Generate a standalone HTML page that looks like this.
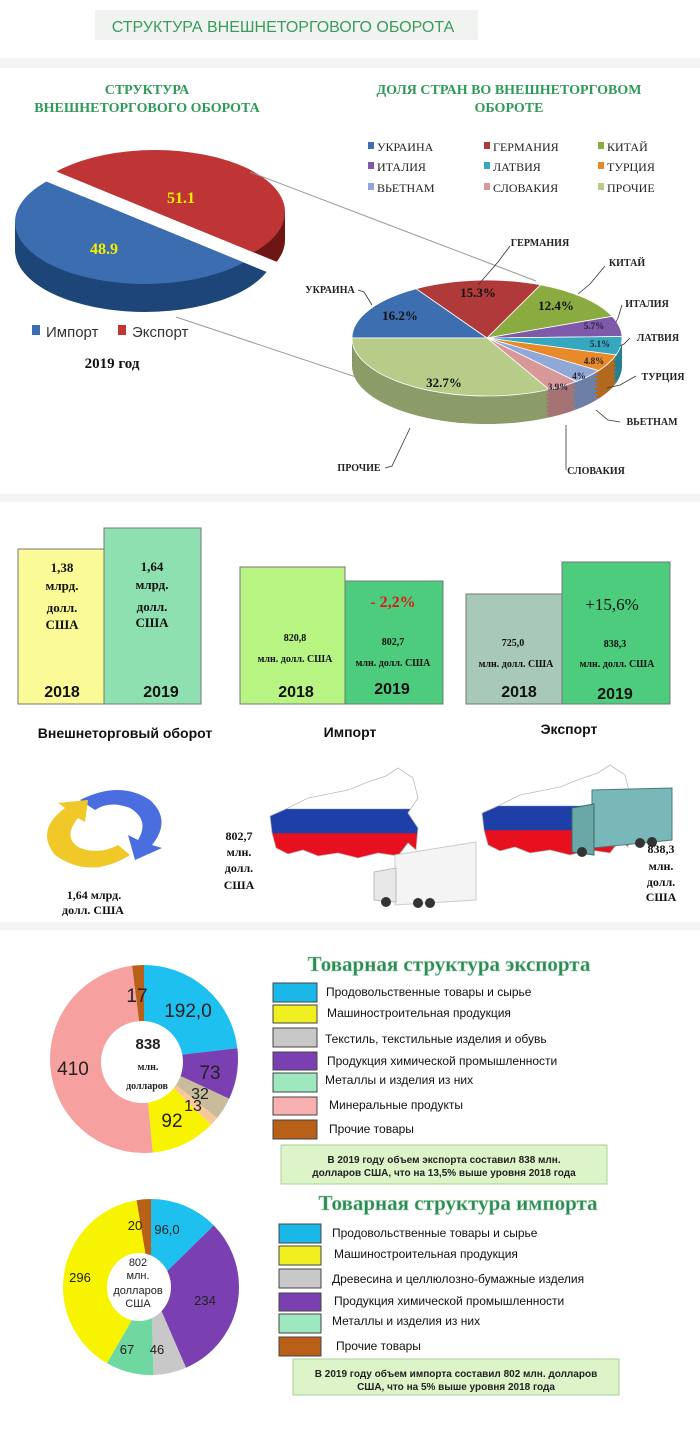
<!DOCTYPE html>
<html><head><meta charset="utf-8"><style>
html,body{margin:0;padding:0;background:#fff}
svg{display:block}
.s{font-family:"Liberation Serif",serif;font-weight:bold}
.a{font-family:"Liberation Sans",sans-serif}
</style></head><body>
<svg width="700" height="1440" viewBox="0 0 700 1440" xmlns="http://www.w3.org/2000/svg">
<defs>
<filter id="dk"><feColorMatrix type="matrix" values="0.55 0 0 0 0 0 0.55 0 0 0 0 0 0.55 0 0 0 0 0 1 0"/></filter>
<clipPath id="cb"><polygon points="-255,58 545,386 545,600 -255,600"/></clipPath>
<clipPath id="cr"><polygon points="-255,58 545,386 545,-200 -255,-200"/></clipPath>
<linearGradient id="fl" x1="0" y1="0" x2="0" y2="1">
<stop offset="0" stop-color="#fff"/><stop offset="0.45" stop-color="#fff"/><stop offset="0.46" stop-color="#1f3fa8"/><stop offset="0.72" stop-color="#1f3fa8"/><stop offset="0.73" stop-color="#e8101e"/><stop offset="1" stop-color="#e8101e"/></linearGradient>
<g id="rp">
<path d="M487 338 L352 338 A135 58 0 0 1 416.1 288.7Z" fill="#3d6eb0"/>
<path d="M487 338 L416.1 288.7 A135 58 0 0 1 540.6 284.8Z" fill="#b03a3a"/>
<path d="M487 338 L540.6 284.8 A135 58 0 0 1 612.2 316.3Z" fill="#8aab40"/>
<path d="M487 338 L612.2 316.3 A135 58 0 0 1 622 336.5Z" fill="#7e5aa8"/>
<path d="M487 338 L622 336.5 A135 58 0 0 1 616.2 354.9Z" fill="#35a8c0"/>
<path d="M487 338 L616.2 354.9 A135 58 0 0 1 598.7 370.6Z" fill="#e88a2a"/>
<path d="M487 338 L598.7 370.6 A135 58 0 0 1 576.3 381.5Z" fill="#8fa8d8"/>
<path d="M487 338 L576.3 381.5 A135 58 0 0 1 549.1 389.5Z" fill="#d89898"/>
<path d="M487 338 L549.1 389.5 A135 58 0 0 1 352 338Z" fill="#b8cc8a"/>
</g>
</defs>
<rect x="0" y="0" width="700" height="60" fill="#fff"/>
<rect x="95" y="10" width="383" height="30" fill="#f1f3f1"/>
<text x="283" y="32" text-anchor="middle" class="a" font-size="16" fill="#3a9b5b">СТРУКТУРА ВНЕШНЕТОРГОВОГО ОБОРОТА</text>
<rect x="0" y="58" width="700" height="10" fill="#f4f4f4"/>
<rect x="0" y="494" width="700" height="8" fill="#f4f4f4"/>
<rect x="0" y="922" width="700" height="8" fill="#f4f4f4"/>

<text x="147" y="94" text-anchor="middle" class="s" font-size="14" fill="#2f9a58">СТРУКТУРА</text>
<text x="147" y="112" text-anchor="middle" class="s" font-size="14" fill="#2f9a58">ВНЕШНЕТОРГОВОГО  ОБОРОТА</text>
<text x="509" y="94" text-anchor="middle" class="s" font-size="14" fill="#2f9a58">ДОЛЯ СТРАН ВО ВНЕШНЕТОРГОВОМ</text>
<text x="509" y="112" text-anchor="middle" class="s" font-size="14" fill="#2f9a58">ОБОРОТЕ</text>

<g class="s" font-size="12" font-weight="normal" fill="#222" style="font-weight:normal">
<rect x="368" y="142" width="6" height="7" fill="#3d6eb0"/><text x="377" y="151">УКРАИНА</text>
<rect x="484" y="142" width="6" height="7" fill="#b03a3a"/><text x="493" y="151">ГЕРМАНИЯ</text>
<rect x="598" y="142" width="6" height="7" fill="#8aab40"/><text x="607" y="151">КИТАЙ</text>
<rect x="368" y="162" width="6" height="7" fill="#7e5aa8"/><text x="377" y="171">ИТАЛИЯ</text>
<rect x="484" y="162" width="6" height="7" fill="#35a8c0"/><text x="493" y="171">ЛАТВИЯ</text>
<rect x="598" y="162" width="6" height="7" fill="#e88a2a"/><text x="607" y="171">ТУРЦИЯ</text>
<rect x="368" y="183" width="6" height="7" fill="#8fa8d8"/><text x="377" y="192">ВЬЕТНАМ</text>
<rect x="484" y="183" width="6" height="7" fill="#d89898"/><text x="493" y="192">СЛОВАКИЯ</text>
<rect x="598" y="183" width="6" height="7" fill="#b8cc8a"/><text x="607" y="192">ПРОЧИЕ</text>
</g>

<!-- left pie -->
<g transform="translate(10,-10)" clip-path="url(#cr)">
<g clip-path="url(#cr)">
<ellipse cx="145" cy="250" rx="130" ry="62" fill="#6e1616"/>
<rect x="15" y="222" width="260" height="28" fill="#6e1616"/>
<polygon points="46.5,181.6 243.5,262.4 243.5,290.4 46.5,209.6" fill="#5a1010"/>
<ellipse cx="145" cy="222" rx="130" ry="62" fill="#bf3434"/>
</g></g>
<g clip-path="url(#cb)">
<ellipse cx="145" cy="250" rx="130" ry="62" fill="#1e4578"/>
<rect x="15" y="222" width="260" height="28" fill="#1e4578"/>
<ellipse cx="145" cy="222" rx="130" ry="62" fill="#3b6db0"/>
</g>
<text x="181" y="203" text-anchor="middle" class="s" font-size="16" fill="#f5f000">51.1</text>
<text x="104" y="254" text-anchor="middle" class="s" font-size="16" fill="#f5f000">48.9</text>
<rect x="32" y="325" width="8" height="10" fill="#3b6db0"/><text x="46" y="337" class="a" font-size="15" fill="#333">Импорт</text>
<rect x="118" y="325" width="8" height="10" fill="#bf3434"/><text x="132" y="337" class="a" font-size="15" fill="#333">Экспорт</text>
<text x="112" y="368" text-anchor="middle" class="s" font-size="15" fill="#111">2019 год</text>

<line x1="250" y1="172" x2="536" y2="281" stroke="#999" stroke-width="1"/>
<line x1="176" y1="317" x2="446" y2="407" stroke="#999" stroke-width="1"/>

<!-- right pie -->
<g filter="url(#dk)">
<use href="#rp" y="28"/><use href="#rp" y="24"/><use href="#rp" y="20"/><use href="#rp" y="16"/><use href="#rp" y="12"/><use href="#rp" y="8"/><use href="#rp" y="4"/>
</g>
<use href="#rp" stroke="#fff" stroke-width="0.8"/>
<g class="s" font-size="13" fill="#111">
<text x="400" y="320" text-anchor="middle">16.2%</text>
<text x="478" y="297" text-anchor="middle">15.3%</text>
<text x="556" y="310" text-anchor="middle">12.4%</text>
<text x="444" y="387" text-anchor="middle">32.7%</text>
</g>
<g class="s" font-size="9" fill="#223">
<text x="594" y="329" text-anchor="middle">5.7%</text>
<text x="600" y="347" text-anchor="middle">5.1%</text>
<text x="594" y="364" text-anchor="middle">4.8%</text>
<text x="579" y="379" text-anchor="middle">4%</text>
<text x="558" y="390" text-anchor="middle">3.9%</text>
</g>
<g class="s" font-size="10" fill="#222" stroke="none">
<text x="330" y="293" text-anchor="middle">УКРАИНА</text>
<text x="540" y="246" text-anchor="middle">ГЕРМАНИЯ</text>
<text x="627" y="266" text-anchor="middle">КИТАЙ</text>
<text x="647" y="307" text-anchor="middle">ИТАЛИЯ</text>
<text x="658" y="341" text-anchor="middle">ЛАТВИЯ</text>
<text x="663" y="380" text-anchor="middle">ТУРЦИЯ</text>
<text x="652" y="425" text-anchor="middle">ВЬЕТНАМ</text>
<text x="596" y="474" text-anchor="middle">СЛОВАКИЯ</text>
<text x="359" y="471" text-anchor="middle">ПРОЧИЕ</text>
</g>
<g stroke="#333" stroke-width="0.8" fill="none">
<polyline points="358,290 364,292 372,305"/>
<polyline points="510,246 498,262 478,285"/>
<polyline points="605,266 590,284 578,294"/>
<polyline points="622,305 618,318 616,322"/>
<polyline points="630,338 624,344 620,346"/>
<polyline points="636,376 620,385 607,388"/>
<polyline points="620,422 608,420 596,410"/>
<polyline points="566,470 566,440 566,425"/>
<polyline points="385,468 392,466 410,428"/>
</g>

<!-- bars -->
<g stroke="#777" stroke-width="1">
<rect x="18" y="549" width="86" height="155" fill="#fafa96"/>
<rect x="104" y="528" width="97" height="176" fill="#8ee0b0"/>
<rect x="240" y="567" width="105" height="137" fill="#b8f482"/>
<rect x="345" y="581" width="98" height="123" fill="#4ccc7c"/>
<rect x="466" y="594" width="96" height="110" fill="#a8c8b8"/>
<rect x="562" y="562" width="108" height="142" fill="#4ccc7c"/>
</g>
<g class="s" font-size="13" fill="#111" text-anchor="middle">
<text x="62" y="572">1,38</text><text x="62" y="590">млрд.</text><text x="62" y="612">долл.</text><text x="62" y="629">США</text>
<text x="152" y="571">1,64</text><text x="152" y="589">млрд.</text><text x="152" y="611">долл.</text><text x="152" y="627">США</text>
</g>
<g class="s" font-size="10" fill="#111" text-anchor="middle">
<text x="295" y="641">820,8</text><text x="295" y="662">млн. долл. США</text>
<text x="393" y="645">802,7</text><text x="393" y="666">млн. долл. США</text>
<text x="513" y="646">725,0</text><text x="516" y="667">млн. долл. США</text>
<text x="615" y="647">838,3</text><text x="617" y="667">млн. долл. США</text>
</g>
<text x="393" y="607" text-anchor="middle" class="s" font-size="16" fill="#e01818">- 2,2%</text>
<text x="612" y="610" text-anchor="middle" class="s" font-size="17" fill="#111" style="font-weight:normal">+15,6%</text>
<g class="a" font-size="16" font-weight="bold" fill="#111" text-anchor="middle">
<text x="62" y="697">2018</text><text x="161" y="697">2019</text>
<text x="296" y="697">2018</text><text x="392" y="694">2019</text>
<text x="519" y="697">2018</text><text x="615" y="699">2019</text>
</g>
<g class="a" font-size="14" font-weight="bold" fill="#111" text-anchor="middle">
<text x="125" y="738">Внешнеторговый оборот</text>
<text x="350" y="737">Импорт</text>
<text x="569" y="734">Экспорт</text>
</g>

<!-- arrows -->
<path d="M80 800 Q120 780 150 800 Q172 820 152 845 L162 848 L135 860 L128 835 L138 840 Q150 820 130 808 Q110 800 95 810 Z" fill="#4a6ee0"/>
<path d="M130 855 Q90 880 55 855 Q35 830 65 808 L58 803 L88 800 L85 822 L78 818 Q62 838 80 848 Q100 855 118 845 Z" fill="#f0c828"/>
<text x="94" y="899" text-anchor="middle" class="s" font-size="12" fill="#111">1,64  млрд.</text>
<text x="93" y="914" text-anchor="middle" class="s" font-size="12" fill="#111">долл. США</text>

<!-- maps -->
<g transform="translate(268,768)">
<path d="M2 48 L20 40 L40 30 L60 26 L80 22 L100 14 L118 8 L130 0 L145 10 L150 30 L140 45 L150 60 L148 82 L140 75 L130 88 L110 85 L90 90 L70 85 L50 88 L35 82 L20 86 L8 80 L4 65 Z" fill="url(#fl)" stroke="#bbb" stroke-width="0.8"/>
</g>
<g transform="translate(480,765)">
<path d="M2 48 L20 40 L40 30 L60 26 L80 22 L100 14 L118 8 L130 0 L145 10 L150 30 L140 45 L150 60 L148 82 L140 75 L130 88 L110 85 L90 90 L70 85 L50 88 L35 82 L20 86 L8 80 L4 65 Z" fill="url(#fl)" stroke="#bbb" stroke-width="0.8"/>
</g>
<!-- white truck -->
<polygon points="395,855 476,842 476,900 395,905" fill="#f4f4f4" stroke="#ccc"/>
<polygon points="374,872 396,868 396,902 374,900" fill="#e8e8e8" stroke="#bbb"/>
<circle cx="386" cy="902" r="5" fill="#333"/><circle cx="418" cy="903" r="5" fill="#333"/><circle cx="430" cy="903" r="5" fill="#333"/>
<!-- teal truck -->
<polygon points="592,790 672,788 672,840 592,848" fill="#79b8b8" stroke="#4a7a7a"/>
<polygon points="572,808 594,804 594,855 572,852" fill="#6aa8a8" stroke="#3a6a6a"/>
<circle cx="582" cy="852" r="5" fill="#333"/><circle cx="640" cy="843" r="5" fill="#333"/><circle cx="652" cy="842" r="5" fill="#333"/>
<g class="s" font-size="12" fill="#111" text-anchor="middle">
<text x="239" y="840">802,7</text><text x="239" y="856">млн.</text><text x="239" y="872">долл.</text><text x="239" y="889">США</text>
<text x="661" y="853">838,3</text><text x="661" y="870">млн.</text><text x="661" y="886">долл.</text><text x="661" y="901">США</text>
</g>

<!-- export donut -->
<g transform="rotate(-90 144 1059)" fill="none" stroke-width="94">
<circle cx="144" cy="1059" r="47" pathLength="829" stroke="#1ec0f0" stroke-dasharray="192 829" stroke-dashoffset="0"/>
<circle cx="144" cy="1059" r="47" pathLength="829" stroke="#7a3fb0" stroke-dasharray="73 829" stroke-dashoffset="-192"/>
<circle cx="144" cy="1059" r="47" pathLength="829" stroke="#c8bc9c" stroke-dasharray="32 829" stroke-dashoffset="-265"/>
<circle cx="144" cy="1059" r="47" pathLength="829" stroke="#f8c898" stroke-dasharray="13 829" stroke-dashoffset="-297"/>
<circle cx="144" cy="1059" r="47" pathLength="829" stroke="#f8f400" stroke-dasharray="92 829" stroke-dashoffset="-310"/>
<circle cx="144" cy="1059" r="47" pathLength="829" stroke="#f7a0a0" stroke-dasharray="410 829" stroke-dashoffset="-402"/>
<circle cx="144" cy="1059" r="47" pathLength="829" stroke="#b86018" stroke-dasharray="17 829" stroke-dashoffset="-812"/>
</g>
<circle cx="142" cy="1062" r="41" fill="#fff"/>
<g class="a" font-size="19" fill="#222" text-anchor="middle">
<text x="137" y="1002">17</text><text x="188" y="1017">192,0</text><text x="210" y="1079">73</text>
<text x="200" y="1099" font-size="16">32</text><text x="193" y="1111" font-size="16">13</text>
<text x="172" y="1127">92</text><text x="73" y="1075">410</text>
</g>
<text x="148" y="1049" text-anchor="middle" class="a" font-size="15" font-weight="bold" fill="#222">838</text>
<text x="148" y="1070" text-anchor="middle" class="s" font-size="10" fill="#222">млн.</text>
<text x="147" y="1089" text-anchor="middle" class="s" font-size="10" fill="#222">долларов</text>

<!-- import donut -->
<g transform="rotate(-90 151 1287)" fill="none" stroke-width="88">
<circle cx="151" cy="1287" r="44" pathLength="759" stroke="#1ec0f0" stroke-dasharray="96 759" stroke-dashoffset="0"/>
<circle cx="151" cy="1287" r="44" pathLength="759" stroke="#7a3fb0" stroke-dasharray="234 759" stroke-dashoffset="-96"/>
<circle cx="151" cy="1287" r="44" pathLength="759" stroke="#c8c8c8" stroke-dasharray="46 759" stroke-dashoffset="-330"/>
<circle cx="151" cy="1287" r="44" pathLength="759" stroke="#6ed8a0" stroke-dasharray="67 759" stroke-dashoffset="-376"/>
<circle cx="151" cy="1287" r="44" pathLength="759" stroke="#f8f400" stroke-dasharray="296 759" stroke-dashoffset="-443"/>
<circle cx="151" cy="1287" r="44" pathLength="759" stroke="#b86018" stroke-dasharray="20 759" stroke-dashoffset="-739"/>
</g>
<ellipse cx="139" cy="1287" rx="32" ry="34" fill="#fff"/>
<g class="a" font-size="13" fill="#222" text-anchor="middle">
<text x="135" y="1230">20</text><text x="167" y="1234">96,0</text><text x="80" y="1282">296</text>
<text x="205" y="1305">234</text><text x="127" y="1354">67</text><text x="157" y="1354">46</text>
</g>
<g class="a" font-size="11" fill="#222" text-anchor="middle">
<text x="138" y="1266">802</text><text x="138" y="1279">млн.</text><text x="138" y="1294">долларов</text><text x="138" y="1307">США</text>
</g>

<!-- export legend -->
<text x="449" y="971" text-anchor="middle" class="s" font-size="21" fill="#2c8a55" stroke="#9ad0aa" stroke-width="0.5">Товарная структура экспорта</text>
<g stroke="#444" stroke-width="1">
<rect x="273" y="983" width="44" height="19" fill="#1ab8e8"/>
<rect x="273" y="1005" width="44" height="18" fill="#f0f020"/>
<rect x="273" y="1028" width="44" height="19" fill="#c8c8c8"/>
<rect x="273" y="1052" width="44" height="18" fill="#7a3fb0"/>
<rect x="273" y="1073" width="44" height="19" fill="#9ee8c0"/>
<rect x="273" y="1097" width="44" height="18" fill="#f8b0b0"/>
<rect x="273" y="1120" width="44" height="19" fill="#b86018"/>
</g>
<g class="a" font-size="12" fill="#111">
<text x="326" y="996">Продовольственные товары и сырье</text>
<text x="327" y="1017">Машиностроительная продукция</text>
<text x="325" y="1043">Текстиль, текстильные изделия и обувь</text>
<text x="327" y="1065">Продукция химической промышленности</text>
<text x="325" y="1084">Металлы и изделия из них</text>
<text x="329" y="1109">Минеральные продукты</text>
<text x="329" y="1133">Прочие товары</text>
</g>
<rect x="281" y="1145" width="326" height="39" fill="#dcf4c8" stroke="#a8d098"/>
<text x="444" y="1163" text-anchor="middle" class="a" font-size="10" font-weight="bold" fill="#222">В 2019 году объем  экспорта  составил 838 млн.</text>
<text x="444" y="1176" text-anchor="middle" class="a" font-size="10" font-weight="bold" fill="#222">долларов США, что на  13,5% выше уровня 2018 года</text>

<!-- import legend -->
<text x="458" y="1210" text-anchor="middle" class="s" font-size="21" fill="#2c8a55" stroke="#9ad0aa" stroke-width="0.5">Товарная структура импорта</text>
<g stroke="#444" stroke-width="1">
<rect x="279" y="1224" width="42" height="19" fill="#1ab8e8"/>
<rect x="279" y="1246" width="42" height="19" fill="#f0f020"/>
<rect x="279" y="1269" width="42" height="19" fill="#c8c8c8"/>
<rect x="279" y="1293" width="42" height="18" fill="#7a3fb0"/>
<rect x="279" y="1314" width="42" height="19" fill="#9ee8c0"/>
<rect x="279" y="1337" width="42" height="19" fill="#b86018"/>
</g>
<g class="a" font-size="12" fill="#111">
<text x="332" y="1237">Продовольственные товары и сырье</text>
<text x="334" y="1258">Машиностроительная продукция</text>
<text x="332" y="1283">Древесина и целлюлозно-бумажные изделия</text>
<text x="334" y="1305">Продукция химической промышленности</text>
<text x="332" y="1325">Металлы и изделия из них</text>
<text x="336" y="1350">Прочие товары</text>
</g>
<rect x="293" y="1359" width="326" height="36" fill="#dcf4c8" stroke="#a8d098"/>
<text x="456" y="1377" text-anchor="middle" class="a" font-size="10" font-weight="bold" fill="#222">В 2019 году объем  импорта составил 802 млн. долларов</text>
<text x="456" y="1390" text-anchor="middle" class="a" font-size="10" font-weight="bold" fill="#222">США, что на 5% выше уровня 2018 года</text>
</svg>
</body></html>
